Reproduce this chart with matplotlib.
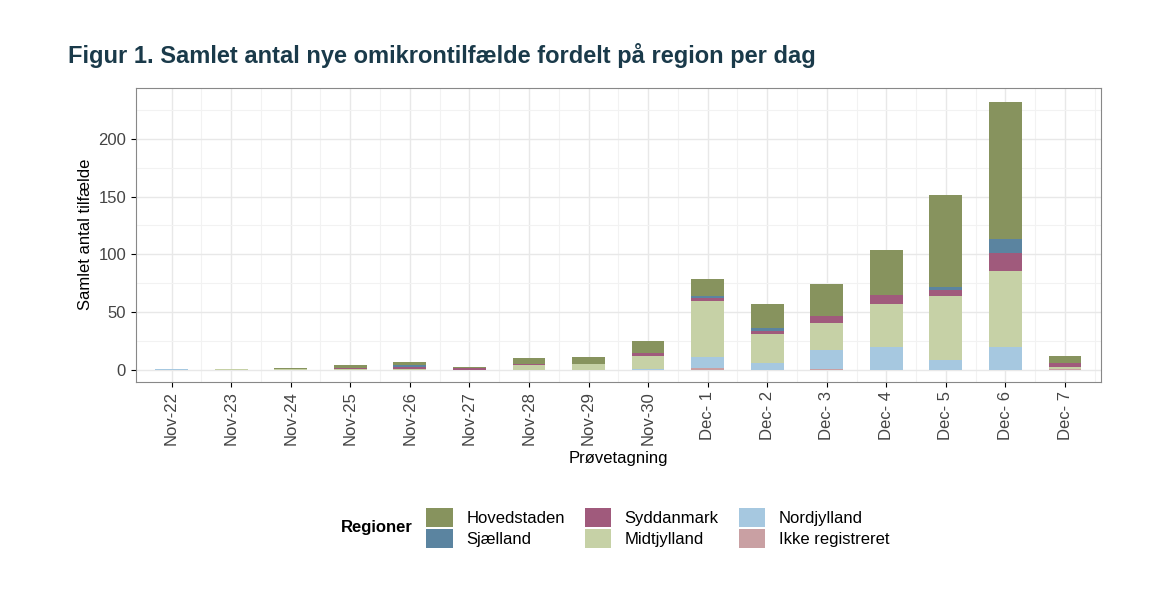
import numpy as np
import matplotlib.pyplot as plt
from matplotlib.offsetbox import HPacker

plt.rcParams['font.family'] = ['Liberation Sans', 'DejaVu Sans']

dates = ['Nov-22', 'Nov-23', 'Nov-24', 'Nov-25', 'Nov-26', 'Nov-27', 'Nov-28', 'Nov-29',
         'Nov-30', 'Dec- 1', 'Dec- 2', 'Dec- 3', 'Dec- 4', 'Dec- 5', 'Dec- 6', 'Dec- 7']

# stacked bottom -> top
ikke = [0, 0, 0, 0, 0, 0, 0, 0, 0, 2, 0, 1, 0, 0, 0, 1]
nordjylland = [1, 0, 0, 0, 0, 0, 0, 0, 1, 9, 6, 16, 20, 9, 20, 0]
midtjylland = [0, 1, 1, 1, 1, 0, 4, 5, 11, 49, 25, 24, 37, 55, 66, 2]
syddanmark = [0, 0, 0, 1, 2, 2, 1, 0, 3, 2, 3, 6, 8, 5, 15, 3]
sjaelland = [0, 0, 0, 0, 1, 0, 0, 0, 0, 2, 2, 0, 0, 3, 12, 0]
hovedstaden = [0, 0, 1, 2, 3, 1, 5, 6, 10, 15, 21, 27, 39, 79, 119, 6]

series = [
    ('Ikke registreret', ikke, '#c9a0a3'),
    ('Nordjylland', nordjylland, '#a6c8e0'),
    ('Midtjylland', midtjylland, '#c6d1a6'),
    ('Syddanmark', syddanmark, '#a05a7c'),
    ('Sjælland', sjaelland, '#5b84a0'),
    ('Hovedstaden', hovedstaden, '#87935e'),
]

fig = plt.figure(figsize=(11.71, 6.01), dpi=100)
ax = fig.add_axes([0.116, 0.365, 0.824, 0.489])

x = np.arange(len(dates))
bottom = np.zeros(len(dates))
handles = {}
for name, vals, col in series:
    b = ax.bar(x, vals, bottom=bottom, width=0.55, color=col, label=name)
    handles[name] = b
    bottom += np.array(vals)

ax.set_xlim(-0.6, len(dates) - 0.4)
ax.set_ylim(-10, 244)
ax.set_yticks([0, 50, 100, 150, 200])
ax.set_yticks([25, 75, 125, 175, 225], minor=True)
ax.set_xticks(x)
ax.set_xticklabels(dates, rotation=90, fontsize=12, color='#444444')
ax.tick_params(axis='y', labelsize=12, labelcolor='#444444')
ax.set_xticks(x + 0.5, minor=True)
ax.grid(True, which='major', color='#e8e8e8', lw=1)
ax.grid(True, which='minor', color='#f2f2f2', lw=0.8)
ax.tick_params(which='minor', length=0)
ax.set_axisbelow(True)
for s in ax.spines.values():
    s.set_color('#888888')
ax.set_ylabel('Samlet antal tilfælde', fontsize=12)
ax.set_xlabel('Prøvetagning', fontsize=12)

fig.text(0.058, 0.895, 'Figur 1. Samlet antal nye omikrontilfælde fordelt på region per dag',
         fontsize=17, fontweight='bold', color='#1a3a4a')

order = ['Hovedstaden', 'Sjælland', 'Syddanmark', 'Midtjylland', 'Nordjylland', 'Ikke registreret']
leg = fig.legend([handles[n] for n in order], order, loc='center', bbox_to_anchor=(0.525, 0.122),
                 ncol=3, frameon=False, fontsize=12, title='Regioner', title_fontsize=12,
                 handlelength=1.6, handleheight=1.4, columnspacing=1.2, labelspacing=0.1)
leg.get_title().set_fontweight('bold')
# put title to the left of the entries
box = leg._legend_box
box._children = [HPacker(children=[box._children[0], box._children[1]], align='center', pad=0, sep=10)]

fig.savefig('out.png')
